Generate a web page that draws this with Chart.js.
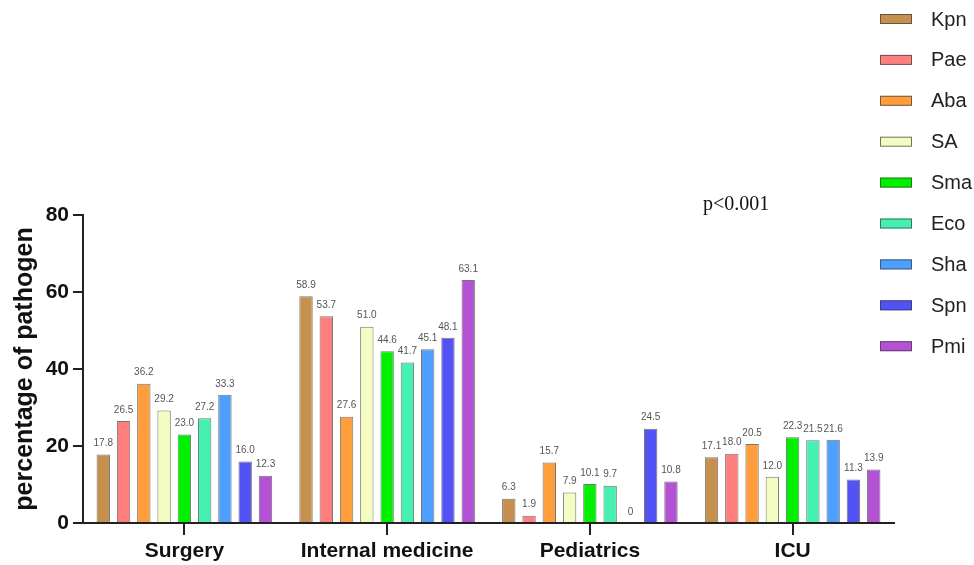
<!DOCTYPE html>
<html>
<head>
<meta charset="utf-8">
<script src="https://cdn.jsdelivr.net/npm/chart.js@4"></script>
<style>
  html, body { margin: 0; padding: 0; background: #fff; overflow: hidden; }
  #wrap { width: 974px; height: 565px; position: relative; }
</style>
</head>
<body>
<div id="wrap"><canvas id="myChart" width="974" height="565"></canvas></div>
<script>
// 데이터
const wards = ["Surgery", "Internal medicine", "Pediatrics", "ICU"];
const pathogens = ["Kpn", "Pae", "Aba", "SA", "Sma", "Eco", "Sha", "Spn", "Pmi"];

const kpn = [17.8, 58.9, 6.3, 17.1];
const pae = [26.5, 53.7, 1.9, 18.0];
const aba = [36.2, 27.6, 15.7, 20.5];
const sa = [29.2, 51.0, 7.9, 12.0];
const sma = [23.0, 44.6, 10.1, 22.3];
const eco = [27.2, 41.7, 9.7, 21.5];
const sha = [33.3, 45.1, 0, 21.6];
const spn = [16.0, 48.1, 24.5, 11.3];
const pmi = [12.3, 63.1, 10.8, 13.9];

const yTicks = [0, 20, 40, 60, 80];

const seriesValues = [kpn, pae, aba, sa, sma, eco, sha, spn, pmi];
const colors = ["#C4914F", "#FF7F7F", "#FF9E3D", "#F4FCC2", "#00F000", "#45F0B0", "#4F9FFF", "#5252F5", "#B452D6"];

const FONT = "'Liberation Sans', Arial, sans-serif";

// 막대 위 숫자
const valueLabels = {
  id: "valueLabels",
  afterDatasetsDraw(chart) {
    const ctx = chart.ctx;
    ctx.save();
    ctx.font = "10px " + FONT;
    ctx.fillStyle = "#555";
    ctx.textAlign = "center";
    ctx.textBaseline = "middle";
    chart.data.datasets.forEach((ds, i) => {
      chart.getDatasetMeta(i).data.forEach((bar, j) => {
        const v = ds.data[j];
        ctx.fillText(v === 0 ? "0" : v.toFixed(1), bar.x, bar.y - 11);
      });
    });
    ctx.restore();
  },
};

// 오른쪽 범례 + p 값
const sideLegend = {
  id: "sideLegend",
  afterDraw(chart) {
    const ctx = chart.ctx;
    ctx.save();
    chart.data.datasets.forEach((ds, i) => {
      const y = 19 + i * 40.9;
      ctx.fillStyle = ds.backgroundColor;
      ctx.fillRect(880, y - 5, 32, 10);
      ctx.strokeStyle = "rgba(60,60,60,0.7)";
      ctx.lineWidth = 1;
      ctx.strokeRect(880.5, y - 4.5, 31, 9);
      ctx.fillStyle = "#222";
      ctx.font = "20px " + FONT;
      ctx.textAlign = "left";
      ctx.textBaseline = "middle";
      ctx.fillText(ds.label, 931, y + 1);
    });
    ctx.font = "20px 'Liberation Serif', 'Times New Roman', serif";
    ctx.fillStyle = "#111";
    ctx.textBaseline = "alphabetic";
    ctx.fillText("p<0.001", 703, 210);
    ctx.restore();
  },
};

const barData = {
  labels: wards,
  datasets: pathogens.map((name, i) => ({
    label: name,
    data: seriesValues[i],
    backgroundColor: colors[i],
    borderColor: "rgba(60,60,60,0.7)",
    borderWidth: 1,
    categoryPercentage: 0.9,
    barPercentage: 0.66,
  })),
};

const config = {
  type: "bar",
  data: barData,
  options: {
    responsive: false,
    animation: false,
    devicePixelRatio: 1,
    layout: { padding: { top: 215, right: 80, left: 0, bottom: 0 } },
    plugins: {
      legend: { display: false },
      tooltip: { enabled: false },
    },
    scales: {
      x: {
        afterFit: (scale) => { scale.height = 42; },
        grid: { offset: false, drawOnChartArea: false, tickLength: 12, color: "#222", lineWidth: 2 },
        border: { display: true, color: "#222", width: 2 },
        ticks: { color: "#111", font: { family: FONT, size: 21, weight: "bold" }, padding: 4 },
      },
      y: {
        min: 0,
        max: 80,
        afterFit: (scale) => { scale.width = 83; },
        afterBuildTicks: (scale) => { scale.ticks = yTicks.map((v) => ({ value: v })); },
        grid: { drawOnChartArea: false, tickLength: 10, color: "#222", lineWidth: 2 },
        border: { display: true, color: "#222", width: 2 },
        ticks: { color: "#111", font: { family: FONT, size: 21, weight: "bold" }, padding: 4 },
        title: {
          display: true,
          text: "percentage of pathogen",
          color: "#111",
          font: { family: FONT, size: 25, weight: "bold" },
          padding: { top: 10, bottom: 0 },
        },
      },
    },
  },
  plugins: [valueLabels, sideLegend],
};

const myChart = new Chart(document.getElementById("myChart"), config);
</script>
</body>
</html>
